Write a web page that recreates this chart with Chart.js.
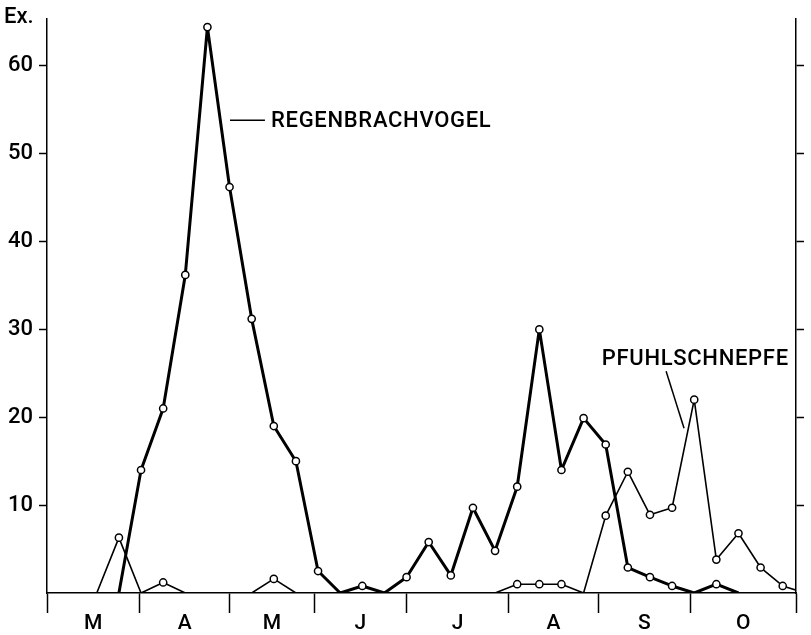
<!DOCTYPE html>
<html>
<head>
<meta charset="utf-8">
<title>Regenbrachvogel und Pfuhlschnepfe</title>
<script src="https://cdn.jsdelivr.net/npm/chart.js@4/dist/chart.umd.min.js"></script>
<style>
  html, body { margin: 0; padding: 0; background: #fff; }
  #wrap { width: 811px; height: 635px; }
</style>
</head>
<body>
<div id="wrap"><canvas id="c" width="811" height="635"></canvas></div>
<script>
// Weekly counts (Ex.), one entry per week from early March to late October
const regenbrachvogel = [null, null, null, 0, 14, 21, 36.2, 64.4, 46.2, 31.2, 19, 15, 2.5, 0, 0.8, 0,
  1.8, 5.8, 2, 9.7, 4.8, 12.1, 30, 14, 19.9, 16.9, 2.9, 1.8, 0.8, 0, 1, 0, null, null, null];
const pfuhlschnepfe = [null, null, 0, 6.3, 0, 1.2, 0, 0, 0, 0, 1.6, 0, 0, 0, 0, 0,
  0, 0, 0, 0, 0, 1, 1, 1, 0, 8.8, 13.8, 8.9, 9.7, 22, 3.8, 6.8, 2.9, 0.8, 0];

// Month letters and month boundaries (in weeks)
const monthLabels = ['M', 'A', 'M', 'J', 'J', 'A', 'S', 'O'];
const monthBounds = [-0.25, 3.92, 8.02, 11.82, 16.01, 20.6, 24.67, 28.82, 33.6];
const yTickValues = [10, 20, 30, 40, 50, 60];

const FONT = 'Roboto, "Liberation Sans", Arial, sans-serif';
const WEIGHT = 500;
const INK = '#000';

const monthCenters = monthLabels.map((m, i) => (monthBounds[i] + monthBounds[i + 1]) / 2);
const toPoints = arr => arr.map((v, i) => ({ x: i, y: v }));

function markerRadius(ctx) {
  const v = ctx.raw && ctx.raw.y;
  return v ? 3.6 : 0;
}

// Axis title and species labels with leader lines
const labelsPlugin = {
  id: 'speciesLabels',
  afterDraw(chart) {
    const { ctx, scales: { x, y } } = chart;
    ctx.save();
    ctx.fillStyle = INK;
    ctx.strokeStyle = INK;
    ctx.textBaseline = 'alphabetic';
    ctx.textAlign = 'left';
    ctx.font = WEIGHT + ' 22px ' + FONT;
    ctx.fillText('Ex.', 4, 23);

    ctx.letterSpacing = '0.7px';
    // Regenbrachvogel
    ctx.lineWidth = 1.5;
    const ry = y.getPixelForValue(53.8);
    const rx0 = x.getPixelForValue(8.02), rx1 = x.getPixelForValue(9.6);
    ctx.beginPath(); ctx.moveTo(rx0, ry); ctx.lineTo(rx1, ry); ctx.stroke();
    ctx.fillText('REGENBRACHVOGEL', rx1 + 6, ry + 7);

    // Pfuhlschnepfe
    ctx.beginPath();
    ctx.moveTo(x.getPixelForValue(27.73), y.getPixelForValue(25.24));
    ctx.lineTo(x.getPixelForValue(28.54), y.getPixelForValue(18.76));
    ctx.stroke();
    ctx.fillText('PFUHLSCHNEPFE', x.getPixelForValue(24.82), y.getPixelForValue(25.95));
    ctx.restore();
  }
};

const isBound = v => monthBounds.some(b => Math.abs(b - v) < 1e-6);

new Chart(document.getElementById('c'), {
  type: 'line',
  data: {
    datasets: [
      {
        label: 'Pfuhlschnepfe',
        data: toPoints(pfuhlschnepfe),
        borderColor: INK,
        borderWidth: 1.6,
        pointRadius: markerRadius,
        pointBorderWidth: 1.5,
        pointBorderColor: INK,
        pointBackgroundColor: '#fff',
        tension: 0,
        spanGaps: false,
        borderJoinStyle: 'round'
      },
      {
        label: 'Regenbrachvogel',
        data: toPoints(regenbrachvogel),
        borderColor: INK,
        borderWidth: 3,
        pointRadius: markerRadius,
        pointBorderWidth: 1.5,
        pointBorderColor: INK,
        pointBackgroundColor: '#fff',
        tension: 0,
        spanGaps: false,
        borderJoinStyle: 'round'
      }
    ]
  },
  options: {
    responsive: false,
    animation: false,
    devicePixelRatio: 1,
    layout: { padding: { top: 15, left: 0, right: 0, bottom: 0 } },
    plugins: { legend: { display: false }, tooltip: { enabled: false } },
    scales: {
      x: {
        type: 'linear',
        position: 'bottom',
        min: -0.25,
        max: 33.6,
        afterBuildTicks: s => {
          s.ticks = monthBounds.concat(monthCenters)
            .sort((a, b) => a - b)
            .map(v => ({ value: v }));
        },
        afterFit: s => { s.height = 42; },
        ticks: {
          autoSkip: false,
          maxRotation: 0,
          padding: -2,
          color: INK,
          font: { family: FONT, size: 21, weight: WEIGHT },
          callback: v => {
            const i = monthCenters.findIndex(c => Math.abs(c - v) < 1e-6);
            return i >= 0 ? monthLabels[i] : '';
          }
        },
        grid: {
          drawOnChartArea: false,
          tickLength: 20,
          tickWidth: 1.5,
          tickColor: ctx => (ctx.tick && isBound(ctx.tick.value)) ? INK : 'rgba(0,0,0,0)'
        },
        border: { display: true, color: INK, width: 1.5 }
      },
      y: {
        type: 'linear',
        position: 'left',
        min: 0,
        max: 65.3,
        afterBuildTicks: s => { s.ticks = yTickValues.map(v => ({ value: v })); },
        afterFit: s => { s.width = 47; },
        ticks: { color: INK, padding: 6, font: { family: FONT, size: 22, weight: WEIGHT } },
        grid: { drawOnChartArea: false, tickLength: 8, tickWidth: 1.5, tickColor: INK },
        border: { display: true, color: INK, width: 1.5 }
      },
      y2: {
        type: 'linear',
        position: 'right',
        min: 0,
        max: 65.3,
        afterBuildTicks: s => { s.ticks = yTickValues.map(v => ({ value: v })); },
        afterFit: s => { s.width = 15; },
        ticks: { display: false },
        grid: { drawOnChartArea: false, tickLength: 8, tickWidth: 1.5, tickColor: INK },
        border: { display: true, color: INK, width: 1.5 }
      }
    }
  },
  plugins: [labelsPlugin]
});
</script>
</body>
</html>
